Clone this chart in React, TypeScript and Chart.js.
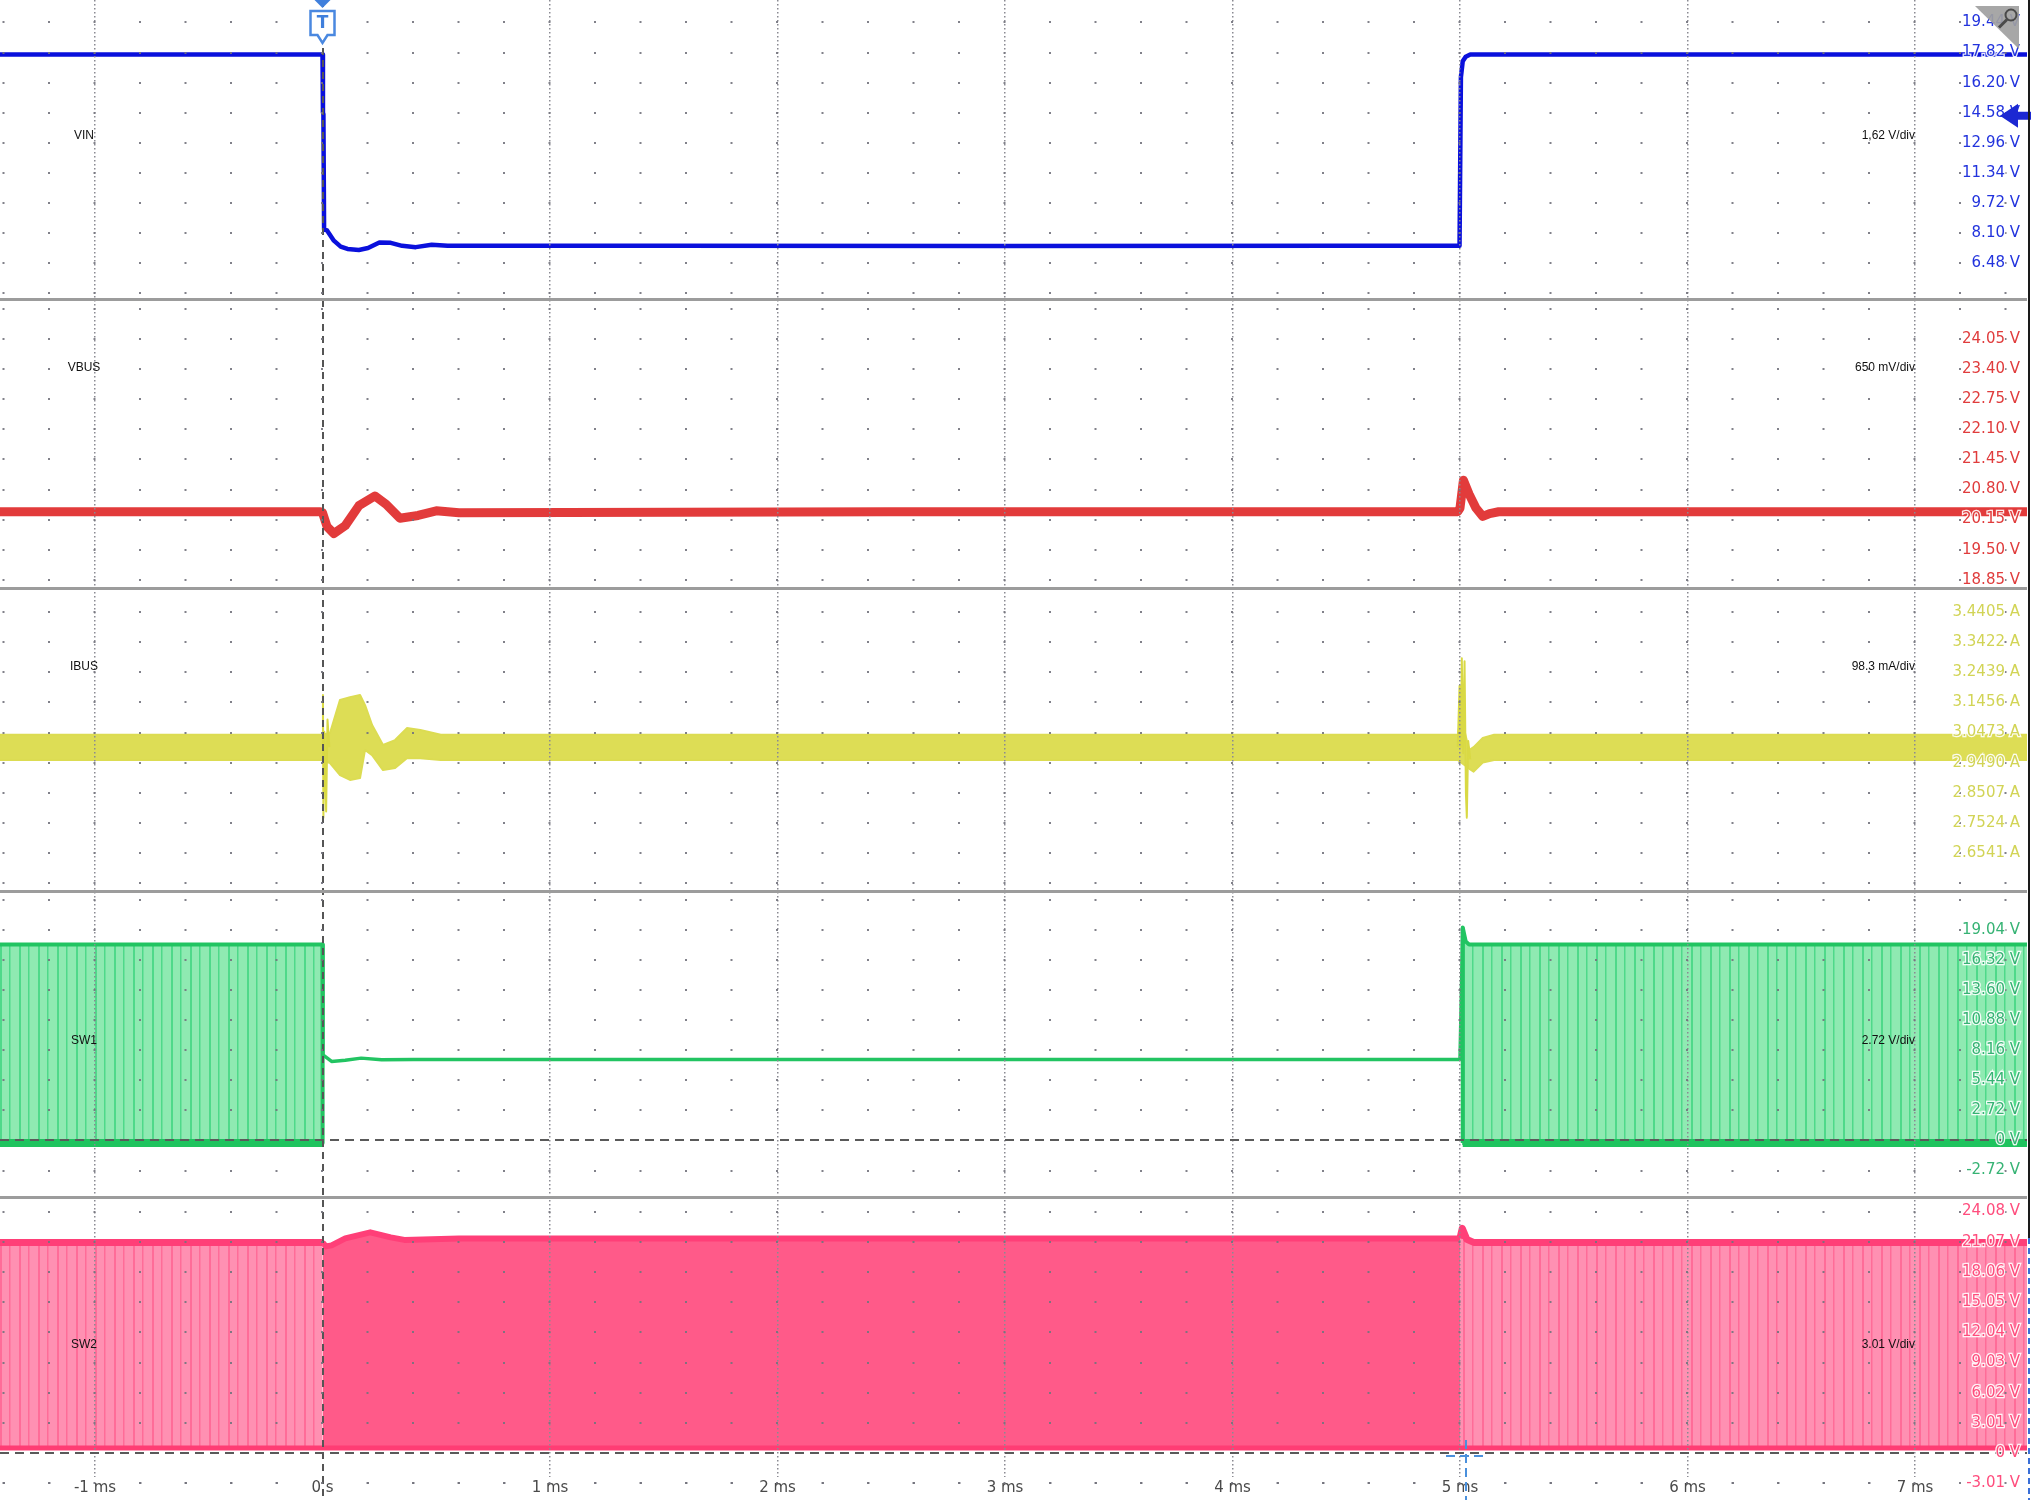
import React, { useEffect, useRef } from "react";
import { Chart, registerables } from "chart.js";

Chart.register(...registerables);

// ---------------- data ----------------
const timeTicks = [-1, 0, 1, 2, 3, 4, 5, 6, 7];
const timeTickLabels = ["-1 ms", "0 s", "1 ms", "2 ms", "3 ms", "4 ms", "5 ms", "6 ms", "7 ms"];

const vinTicks = [19.44, 17.82, 16.2, 14.58, 12.96, 11.34, 9.72, 8.1, 6.48, 4.86];
const vinTickLabels = ["19.44 V", "17.82 V", "16.20 V", "14.58 V", "12.96 V", "11.34 V", "9.72 V", "8.10 V", "6.48 V", ""];
const vbusTicks = [24.7, 24.05, 23.4, 22.75, 22.1, 21.45, 20.8, 20.15, 19.5, 18.85];
const vbusTickLabels = ["", "24.05 V", "23.40 V", "22.75 V", "22.10 V", "21.45 V", "20.80 V", "20.15 V", "19.50 V", "18.85 V"];
const ibusTicks = [3.4405, 3.3422, 3.2439, 3.1456, 3.0473, 2.949, 2.8507, 2.7524, 2.6541, 2.5558];
const ibusTickLabels = ["3.4405 A", "3.3422 A", "3.2439 A", "3.1456 A", "3.0473 A", "2.9490 A", "2.8507 A", "2.7524 A", "2.6541 A", ""];
const sw1Ticks = [21.76, 19.04, 16.32, 13.6, 10.88, 8.16, 5.44, 2.72, 0, -2.72];
const sw1TickLabels = ["", "19.04 V", "16.32 V", "13.60 V", "10.88 V", "8.16 V", "5.44 V", "2.72 V", "0 V", "-2.72 V"];
const sw2Ticks = [24.08, 21.07, 18.06, 15.05, 12.04, 9.03, 6.02, 3.01, 0, -3.01];
const sw2TickLabels = ["24.08 V", "21.07 V", "18.06 V", "15.05 V", "12.04 V", "9.03 V", "6.02 V", "3.01 V", "0 V", "-3.01 V"];

const channelNames = ["VIN", "VBUS", "IBUS", "SW1", "SW2"];
const channelScales = ["1,62 V/div", "650 mV/div", "98.3 mA/div", "2.72 V/div", "3.01 V/div"];

// VIN (ms, V)
const vinTime = [-1.42, 0.0, 0.002, 0.004, 0.007, 0.02, 0.05, 0.08, 0.11, 0.16, 0.2, 0.25, 0.3, 0.35, 0.41, 0.48, 0.55, 1.5, 3.0, 4.5, 4.998, 5.004, 5.012, 5.025, 5.045, 7.5];
const vinVolts = [17.72, 17.72, 14.6, 14.5, 8.3, 8.25, 7.7, 7.38, 7.25, 7.2, 7.3, 7.6, 7.58, 7.42, 7.35, 7.48, 7.42, 7.42, 7.41, 7.42, 7.42, 16.5, 17.35, 17.6, 17.72, 17.72];

// VBUS (ms, V)
const vbusTime = [-1.42, -0.01, 0.0, 0.02, 0.05, 0.1, 0.16, 0.23, 0.28, 0.34, 0.42, 0.5, 0.6, 2.5, 4.99, 5.0, 5.015, 5.04, 5.07, 5.1, 5.13, 5.17, 7.5];
const vbusVolts = [20.32, 20.32, 20.3, 20.0, 19.85, 20.02, 20.45, 20.66, 20.48, 20.18, 20.24, 20.34, 20.3, 20.32, 20.32, 20.4, 21.0, 20.7, 20.4, 20.22, 20.28, 20.32, 20.32];

// IBUS noise envelope (ms, A)
const ibusTime = [-1.42, -0.005, 0.033, 0.077, 0.121, 0.165, 0.187, 0.218, 0.266, 0.319, 0.371, 0.43, 0.52, 4.99, 5.005, 5.04, 5.06, 5.1, 5.15, 7.5];
const ibusHigh = [3.04, 3.04, 3.046, 3.154, 3.163, 3.17, 3.137, 3.072, 3.007, 3.023, 3.062, 3.056, 3.04, 3.04, 3.1, 2.99, 3.0, 3.03, 3.04, 3.04];
const ibusLow = [2.958, 2.958, 2.948, 2.909, 2.893, 2.899, 2.991, 2.974, 2.925, 2.932, 2.964, 2.964, 2.958, 2.958, 2.95, 2.93, 2.92, 2.95, 2.958, 2.958];
// IBUS spikes (ms, A)
const ibusSpikeTime = [-0.002, 0.002, 0.004, 0.008, 0.016, 0.022, 0.03, 0.031, 4.99, 4.998, 5.004, 5.008, 5.014, 5.02, 5.026, 5.03, 5.036, 5.045];
const ibusSpikeAmps = [3.0, 3.17, 2.77, 3.05, 2.79, 3.09, 3.0, null, 3.0, 3.2, 3.0, 3.29, 2.98, 3.28, 2.85, 2.77, 3.02, 2.96];

// SW1 (ms, V)
const sw1PreTime = [-1.42, 0.0, 0.0005];
const sw1PreVolts = [17.73, 17.73, -0.23];
const sw1DcTime = [0.0, 0.002, 0.04, 0.1, 0.17, 0.26, 0.4, 2.5, 5.0, 5.012];
const sw1DcVolts = [17.73, 7.75, 7.15, 7.25, 7.45, 7.3, 7.33, 7.33, 7.33, 19.27];
const sw1PostTime = [5.01, 5.012, 5.025, 5.04, 7.5];
const sw1PostVolts = [-0.23, 19.27, 18.0, 17.73, 17.73];
const sw1LowTime = [-1.42, 0.0, 2.5, 5.012, 7.5];
const sw1LowVolts = [-0.23, -0.23, null, -0.23, -0.23];

// SW2 (ms, V)
const sw2PreTime = [-1.42, 0.0];
const sw2PreVolts = [21.0, 21.0];
const sw2MidTime = [0.0, 0.015, 0.04, 0.1, 0.21, 0.3, 0.36, 0.6, 2.5, 4.99, 5.0];
const sw2MidVolts = [21.0, 20.6, 20.7, 21.4, 22.0, 21.5, 21.25, 21.4, 21.4, 21.4, 21.4];
const sw2PostTime = [5.0, 5.01, 5.03, 5.06, 7.5];
const sw2PostVolts = [21.4, 22.4, 21.3, 21.0, 21.0];
const sw2LowTime = [-1.42, 7.5];
const sw2LowVolts = [0.5, 0.5];

// ---------------- layout ----------------
const W = 2031;
const H = 1500;
const AREA_BOTTOM = 1477;
const AREA_RIGHT = 2027;
const T0_PX = 322.5;
const PX_PER_MS = 227.5;
const X_MIN = -T0_PX / PX_PER_MS;
const X_MAX = (AREA_RIGHT - T0_PX) / PX_PER_MS;
const FONT = '"DejaVu Sans", Verdana, sans-serif';

function panelRange(v1: number, p1: number, perDiv: number, pxDiv: number) {
  const k = perDiv / pxDiv;
  const max = v1 + p1 * k;
  return { min: max - AREA_BOTTOM * k, max };
}

function pts(t: number[], v: (number | null)[]) {
  return t.map((x, i) => ({ x, y: v[i] }));
}

function zeroPad(s: any) {
  s.paddingTop = 0;
  s.paddingBottom = 0;
  s.paddingLeft = 0;
  s.paddingRight = 0;
}

function panelAxis(range: { min: number; max: number }, ticks: number[], labels: string[], color: string) {
  return {
    type: "linear",
    position: "right",
    min: range.min,
    max: range.max,
    bounds: "data",
    afterBuildTicks: (s: any) => {
      s.ticks = ticks.map((v) => ({ value: v }));
    },
    afterFit: (s: any) => {
      s.width = 0;
      zeroPad(s);
    },
    ticks: {
      mirror: true,
      padding: -7,
      autoSkip: false,
      color,
      font: { family: FONT, size: 15 },
      textStrokeColor: "rgba(255,255,255,0.9)",
      textStrokeWidth: 2.5,
      z: 3,
      callback: (_v: any, i: number) => labels[i],
    },
    grid: {
      display: true,
      drawTicks: false,
      z: 1,
      color: (c: any) => (c.tick && c.tick.value === 0 ? "#5a5a5a" : "rgba(115,115,125,0.9)"),
      lineWidth: 2,
    },
    border: {
      display: false,
      dash: (c: any) => (c.tick && c.tick.value === 0 ? [9, 6] : [2, 43.5]),
      dashOffset: (c: any) => (c.tick && c.tick.value === 0 ? 0 : 43),
    },
  };
}

function stripePattern(ctx: CanvasRenderingContext2D, bg: string, stripe: string) {
  const c = document.createElement("canvas");
  c.width = 19;
  c.height = 4;
  const g = c.getContext("2d")!;
  g.fillStyle = bg;
  g.fillRect(0, 0, 19, 4);
  g.fillStyle = stripe;
  g.fillRect(0, 0, 2, 4);
  g.fillRect(9, 0, 1.5, 4);
  return ctx.createPattern(c, "repeat");
}

const overlayPlugin = {
  id: "scopeOverlay",
  afterDraw(chart: any) {
    const ctx: CanvasRenderingContext2D = chart.ctx;
    ctx.save();
    // channel names and scale texts
    const labelY = [136, 368, 667, 1041, 1345];
    ctx.font = '12px "Liberation Sans", Arial, sans-serif';
    ctx.fillStyle = "#111";
    ctx.textBaseline = "middle";
    channelNames.forEach((n, i) => {
      ctx.textAlign = "center";
      ctx.fillText(n, 84, labelY[i]);
      ctx.textAlign = "right";
      ctx.fillText(channelScales[i], 1915, labelY[i]);
    });

    // trigger marker
    const tx = chart.scales.x.getPixelForValue(0);
    ctx.fillStyle = "#3f7fdc";
    ctx.beginPath();
    ctx.moveTo(tx - 8, 0);
    ctx.lineTo(tx + 8, 0);
    ctx.lineTo(tx, 8);
    ctx.closePath();
    ctx.fill();
    ctx.fillStyle = "#ffffff";
    ctx.strokeStyle = "#4a88e0";
    ctx.lineWidth = 2.5;
    ctx.beginPath();
    ctx.moveTo(tx - 12, 11);
    ctx.lineTo(tx + 12, 11);
    ctx.lineTo(tx + 12, 35);
    ctx.lineTo(tx + 5, 35);
    ctx.lineTo(tx, 43);
    ctx.lineTo(tx - 5, 35);
    ctx.lineTo(tx - 12, 35);
    ctx.closePath();
    ctx.fill();
    ctx.stroke();
    ctx.fillStyle = "#3f7fdc";
    ctx.font = 'bold 17px "DejaVu Sans", sans-serif';
    ctx.textAlign = "center";
    ctx.textBaseline = "middle";
    ctx.fillText("T", tx, 23.5);

    // trigger level arrow (VIN)
    const ay = chart.scales.yVin.getPixelForValue(14.58) + 3;
    ctx.fillStyle = "#1c28d2";
    ctx.beginPath();
    ctx.moveTo(2000, ay);
    ctx.lineTo(2018, ay - 12);
    ctx.lineTo(2018, ay - 4);
    ctx.lineTo(2031, ay - 4);
    ctx.lineTo(2031, ay + 4);
    ctx.lineTo(2018, ay + 4);
    ctx.lineTo(2018, ay + 12);
    ctx.closePath();
    ctx.fill();

    // magnifier corner
    ctx.fillStyle = "rgba(160,160,160,0.92)";
    ctx.beginPath();
    ctx.moveTo(1975, 6);
    ctx.lineTo(2019, 6);
    ctx.lineTo(2019, 49);
    ctx.closePath();
    ctx.fill();
    ctx.strokeStyle = "#4a4a4a";
    ctx.lineWidth = 2;
    ctx.beginPath();
    ctx.arc(2011, 15, 5.5, 0, Math.PI * 2);
    ctx.stroke();
    ctx.lineWidth = 3;
    ctx.beginPath();
    ctx.moveTo(2007, 19.5);
    ctx.lineTo(1999, 27.5);
    ctx.stroke();

    // bottom row of grid dots (below plot area)
    ctx.fillStyle = "rgba(115,115,125,0.9)";
    const x0 = chart.scales.x.getPixelForValue(0);
    for (let k = -7; k <= 37; k++) {
      const px = x0 + k * 45.5;
      if (px < 0 || px > 1950) continue;
      if (k % 5 === 0) continue;
      ctx.fillRect(px - 1, 1482, 2, 2);
    }

    // right border
    ctx.strokeStyle = "#1a1a1a";
    ctx.lineWidth = 2;
    ctx.beginPath();
    ctx.moveTo(2029, 0);
    ctx.lineTo(2029, 1238);
    ctx.stroke();
    ctx.strokeStyle = "#3a6fd8";
    ctx.setLineDash([6, 4]);
    ctx.beginPath();
    ctx.moveTo(2029, 1238);
    ctx.lineTo(2029, 1500);
    ctx.stroke();

    // cursor marker at 5 ms
    const cx = chart.scales.x.getPixelForValue(5) + 6;
    ctx.strokeStyle = "#4a90dc";
    ctx.lineWidth = 2;
    ctx.setLineDash([9, 5]);
    ctx.beginPath();
    ctx.moveTo(cx, 1440);
    ctx.lineTo(cx, 1500);
    ctx.moveTo(cx - 20, 1456);
    ctx.lineTo(cx + 22, 1456);
    ctx.stroke();
    ctx.restore();
  },
};

export default function App() {
  const ref = useRef<HTMLCanvasElement>(null);

  useEffect(() => {
    const canvas = ref.current!;
    const ctx2d = canvas.getContext("2d")!;
    const sw1Pattern = stripePattern(ctx2d, "#8feab2", "#4fd98a");
    const sw2Pattern = stripePattern(ctx2d, "#ff90b2", "#ff6c98");

    const vinR = panelRange(19.44, 22.5, 1.62, 30.1);
    const vbusR = panelRange(24.05, 339, 0.65, 30.1);
    const ibusR = panelRange(3.4405, 612, 0.0983, 30.15);
    const sw1R = panelRange(19.04, 930, 2.72, 30.07);
    const sw2R = panelRange(24.08, 1211.5, 3.01, 30.2);

    const lineBase = { pointRadius: 0, tension: 0, borderJoinStyle: "round", spanGaps: false };

    const chart = new Chart(canvas, {
      type: "line",
      data: {
        datasets: [
          { ...lineBase, label: "VIN", data: pts(vinTime, vinVolts), yAxisID: "yVin", borderColor: "#0a10dc", borderWidth: 4.5, fill: false, order: 0 },
          { ...lineBase, label: "VBUS", data: pts(vbusTime, vbusVolts), yAxisID: "yVbus", borderColor: "#e23b3b", borderWidth: 9, fill: false, order: 0 },
          { ...lineBase, label: "IBUS high", data: pts(ibusTime, ibusHigh), yAxisID: "yIbus", borderColor: "#dcdc52", borderWidth: 2, fill: false, order: 2 },
          { ...lineBase, label: "IBUS low", data: pts(ibusTime, ibusLow), yAxisID: "yIbus", borderColor: "#dcdc52", borderWidth: 2, backgroundColor: "#dddd55", fill: "-1", order: 2 },
          { ...lineBase, label: "IBUS spikes", data: pts(ibusSpikeTime, ibusSpikeAmps), yAxisID: "yIbus", borderColor: "#d9d944", borderWidth: 2, fill: false, order: 0 },
          { ...lineBase, label: "SW1 pre", data: pts(sw1PreTime, sw1PreVolts), yAxisID: "ySw1", borderColor: "#22c462", borderWidth: 4, backgroundColor: sw1Pattern, fill: { value: -0.23 }, order: 2 },
          { ...lineBase, label: "SW1 dc", data: pts(sw1DcTime, sw1DcVolts), yAxisID: "ySw1", borderColor: "#22c462", borderWidth: 3.5, fill: false, order: 0 },
          { ...lineBase, label: "SW1 post", data: pts(sw1PostTime, sw1PostVolts), yAxisID: "ySw1", borderColor: "#22c462", borderWidth: 4, backgroundColor: sw1Pattern, fill: { value: -0.23 }, order: 2 },
          { ...lineBase, label: "SW1 low", data: pts(sw1LowTime, sw1LowVolts), yAxisID: "ySw1", borderColor: "#1fc35e", borderWidth: 8, fill: false, order: 0 },
          { ...lineBase, label: "SW2 pre", data: pts(sw2PreTime, sw2PreVolts), yAxisID: "ySw2", borderColor: "#ff3f78", borderWidth: 7, backgroundColor: sw2Pattern, fill: { value: 0.5 }, order: 2 },
          { ...lineBase, label: "SW2 mid", data: pts(sw2MidTime, sw2MidVolts), yAxisID: "ySw2", borderColor: "#ff3f78", borderWidth: 6, backgroundColor: "#ff5a89", fill: { value: 0.5 }, order: 2 },
          { ...lineBase, label: "SW2 post", data: pts(sw2PostTime, sw2PostVolts), yAxisID: "ySw2", borderColor: "#ff3f78", borderWidth: 7, backgroundColor: sw2Pattern, fill: { value: 0.5 }, order: 2 },
          { ...lineBase, label: "SW2 low", data: pts(sw2LowTime, sw2LowVolts), yAxisID: "ySw2", borderColor: "#ff3d74", borderWidth: 5, fill: false, order: 0 },
        ],
      },
      options: {
        responsive: false,
        maintainAspectRatio: false,
        animation: false,
        events: [],
        layout: { padding: { left: 0, top: 0, right: W - AREA_RIGHT, bottom: 0 }, autoPadding: false },
        plugins: { legend: { display: false }, tooltip: { enabled: false }, title: { display: false } },
        scales: {
          x: {
            type: "linear",
            position: "bottom",
            min: X_MIN,
            max: X_MAX,
            bounds: "data",
            afterBuildTicks: (s: any) => {
              s.ticks = timeTicks.map((v) => ({ value: v }));
            },
            afterFit: (s: any) => {
              s.height = H - AREA_BOTTOM;
              zeroPad(s);
            },
            ticks: {
              autoSkip: false,
              maxRotation: 0,
              minRotation: 0,
              padding: -21,
              color: "#4a4a4a",
              font: { family: FONT, size: 15 },
              z: 3,
              callback: (_v: any, i: number) => timeTickLabels[i],
            },
            grid: {
              z: 1,
              drawTicks: true,
              tickLength: H - AREA_BOTTOM,
              color: (c: any) => (c.tick && c.tick.value === 0 ? "#555555" : "#8a8a92"),
              lineWidth: (c: any) => (c.tick && c.tick.value === 0 ? 2 : 1.5),
              tickColor: (c: any) => (c.tick && c.tick.value === 0 ? "#555555" : "rgba(0,0,0,0)"),
              tickWidth: 2,
              tickBorderDash: [7, 5],
            },
            border: {
              display: false,
              dash: (c: any) => (c.tick && c.tick.value === 0 ? [7, 5] : [1.5, 2.5]),
            },
          },
          yVin: panelAxis(vinR, vinTicks, vinTickLabels, "#2233dd"),
          yVbus: panelAxis(vbusR, vbusTicks, vbusTickLabels, "#e03c3c"),
          yIbus: panelAxis(ibusR, ibusTicks, ibusTickLabels, "#d2d456"),
          ySw1: panelAxis(sw1R, sw1Ticks, sw1TickLabels, "#36b374"),
          ySw2: panelAxis(sw2R, sw2Ticks, sw2TickLabels, "#ff4d7d"),
          ySep: {
            type: "linear",
            position: "right",
            min: 0,
            max: AREA_BOTTOM,
            reverse: true,
            bounds: "data",
            afterBuildTicks: (s: any) => {
              s.ticks = [299, 588, 892, 1197].map((v) => ({ value: v }));
            },
            afterFit: (s: any) => {
              s.width = 0;
              zeroPad(s);
            },
            ticks: { display: false },
            grid: { display: true, drawTicks: false, z: 1, color: "#9c9c9c", lineWidth: 3 },
            border: { display: false, dash: [] },
          },
        },
      },
      plugins: [overlayPlugin],
    } as any);

    return () => chart.destroy();
  }, []);

  return (
    <div style={{ position: "fixed", left: 0, top: 0, width: W, height: H, background: "#ffffff" }}>
      <canvas ref={ref} width={W} height={H} style={{ display: "block", width: W, height: H }} />
    </div>
  );
}
